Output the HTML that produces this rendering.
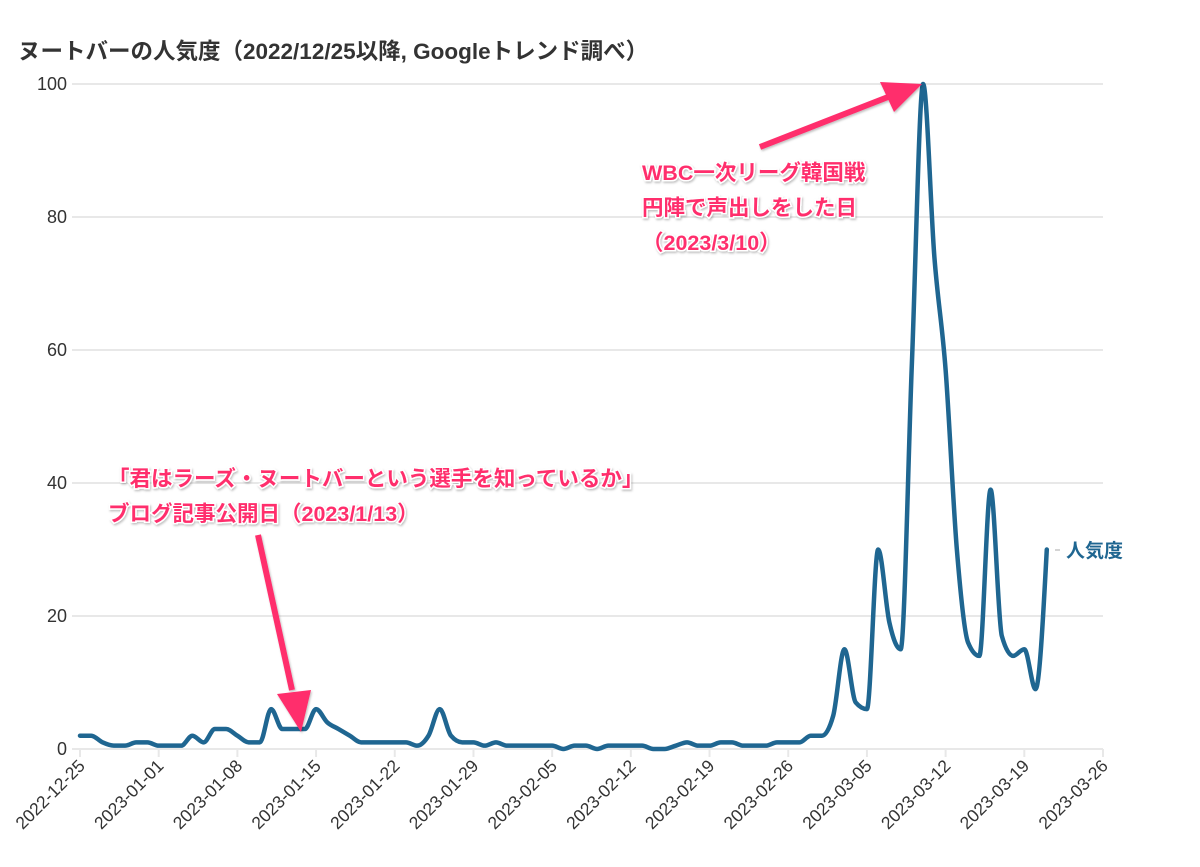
<!DOCTYPE html>
<html><head><meta charset="utf-8">
<style>
body{margin:0;background:#fff;}
svg{display:block;font-family:"Liberation Sans","Noto Sans CJK JP",sans-serif;}
.ann{font-weight:bold;fill:#ff2d6c;stroke:#fff;stroke-width:3px;paint-order:stroke;font-size:21.5px;}
</style></head>
<body>
<svg id="chart" width="1200" height="867" viewBox="0 0 1200 867">
  <defs>
    <filter id="sh" x="-10%" y="-10%" width="120%" height="130%"><feDropShadow dx="1" dy="1.5" stdDeviation="1" flood-color="#000" flood-opacity="0.25"/></filter>
  </defs>
  <text x="18" y="59" font-size="22.5" font-weight="bold" fill="#333">ヌートバーの人気度（2022/12/25以降, Googleトレンド調べ）</text>
  <g id="grid"></g>
  <g id="xaxis"></g>
  <g id="yaxis"></g>
  <path id="line" fill="none" stroke="#1f6691" stroke-width="4.5" stroke-linejoin="round" stroke-linecap="round"/>
  <g>
    <line x1="1055" y1="550" x2="1060" y2="550" stroke="#aaa" stroke-width="1"/>
    <text x="1066" y="557" font-size="19" font-weight="bold" fill="#1f6691">人気度</text>
  </g>
  <g filter="url(#sh)">
    <text class="ann" x="108" y="486">「君はラーズ・ヌートバーという選手を知っているか」</text>
    <text class="ann" x="108" y="521">ブログ記事公開日（2023/1/13）</text>
    <line x1="258" y1="535" x2="292" y2="690" stroke="#ff2d6c" stroke-width="6"/>
    <polygon points="277,694 311,690 301,732" fill="#ff2d6c"/>
  </g>
  <g filter="url(#sh)">
    <text class="ann" x="642" y="180">WBC一次リーグ韓国戦</text>
    <text class="ann" x="642" y="215">円陣で声出しをした日</text>
    <text class="ann" x="642" y="250">（2023/3/10）</text>
    <line x1="760" y1="147" x2="888" y2="97" stroke="#ff2d6c" stroke-width="6"/>
    <polygon points="880,82 922,84 894,112" fill="#ff2d6c"/>
  </g>
</svg>
<script>
const startDate = "2022-12-25";
const values = [2,2,1,0.5,0.5,1,1,0.5,0.5,0.5,2,1,3,3,2,1,1,6,3,3,3,6,4,3,2,1,1,1,1,1,0.5,2,6,2,1,1,0.5,1,0.5,0.5,0.5,0.5,0.5,0,0.5,0.5,0,0.5,0.5,0.5,0.5,0,0,0.5,1,0.5,0.5,1,1,0.5,0.5,0.5,1,1,1,2,2,5,15,7,6,30,19,15,58,100,74,57,30,16,14,39,17,14,15,9,30];
const yTicks = [0,20,40,60,80,100];
const xTickLabels = ["2022-12-25","2023-01-01","2023-01-08","2023-01-15","2023-01-22","2023-01-29","2023-02-05","2023-02-12","2023-02-19","2023-02-26","2023-03-05","2023-03-12","2023-03-19","2023-03-26"];

const NS="http://www.w3.org/2000/svg";
const X0=80, X1=1103, Y0=749, Y1=84, DAYS=91;
const t0=Date.parse(startDate);
function xScale(d){return X0+(X1-X0)*d/DAYS;}
function dayOf(s){return Math.round((Date.parse(s)-t0)/86400000);}
function yScale(v){return Y0-(Y0-Y1)*v/100;}
function mk(tag,attrs,parent){const e=document.createElementNS(NS,tag);for(const k in attrs)e.setAttribute(k,attrs[k]);parent.appendChild(e);return e;}

const grid=document.getElementById('grid'), ya=document.getElementById('yaxis'), xa=document.getElementById('xaxis');
yTicks.forEach(v=>{
  const y=yScale(v);
  const g=mk('line',{x1:X0-8,x2:X1,y1:y,y2:y,stroke:'#e8e8e8','stroke-width':2},grid);
  
  
  const t=mk('text',{x:X0-13,y:y+6,'text-anchor':'end','font-size':18,fill:'#333'},ya);
  t.textContent=v;
  
  
});
xTickLabels.forEach(s=>{
  const x=xScale(dayOf(s));
  const l=mk('line',{x1:x,x2:x,y1:Y0,y2:Y0+8,stroke:'#e8e8e8','stroke-width':2},xa);
  
  
  const t=mk('text',{x:0,y:0,'text-anchor':'end','font-size':17.5,fill:'#333',transform:`translate(${x+6},${Y0+18}) rotate(-45)`},xa);
  t.textContent=s;
  
  
});

const px=values.map((v,i)=>xScale(i)), py=values.map(v=>yScale(v));
const n=values.length, tang=new Array(n);
function sign(a){return a<0?-1:1;}
for(let i=1;i<n-1;i++){
  const h0=px[i]-px[i-1],h1=px[i+1]-px[i],s0=(py[i]-py[i-1])/h0,s1=(py[i+1]-py[i])/h1,p=(s0*h1+s1*h0)/(h0+h1);
  tang[i]=(sign(s0)+sign(s1))*Math.min(Math.abs(s0),Math.abs(s1),0.5*Math.abs(p))||0;
}
tang[0]=(3*(py[1]-py[0])/(px[1]-px[0])-tang[1])/2;
tang[n-1]=(3*(py[n-1]-py[n-2])/(px[n-1]-px[n-2])-tang[n-2])/2;
let d=`M${px[0]},${py[0]}`;
for(let i=0;i<n-1;i++){
  const dx=(px[i+1]-px[i])/3;
  d+=`C${px[i]+dx},${py[i]+dx*tang[i]},${px[i+1]-dx},${py[i+1]-dx*tang[i+1]},${px[i+1]},${py[i+1]}`;
}
document.getElementById('line').setAttribute('d',d);
</script>
</body></html>
